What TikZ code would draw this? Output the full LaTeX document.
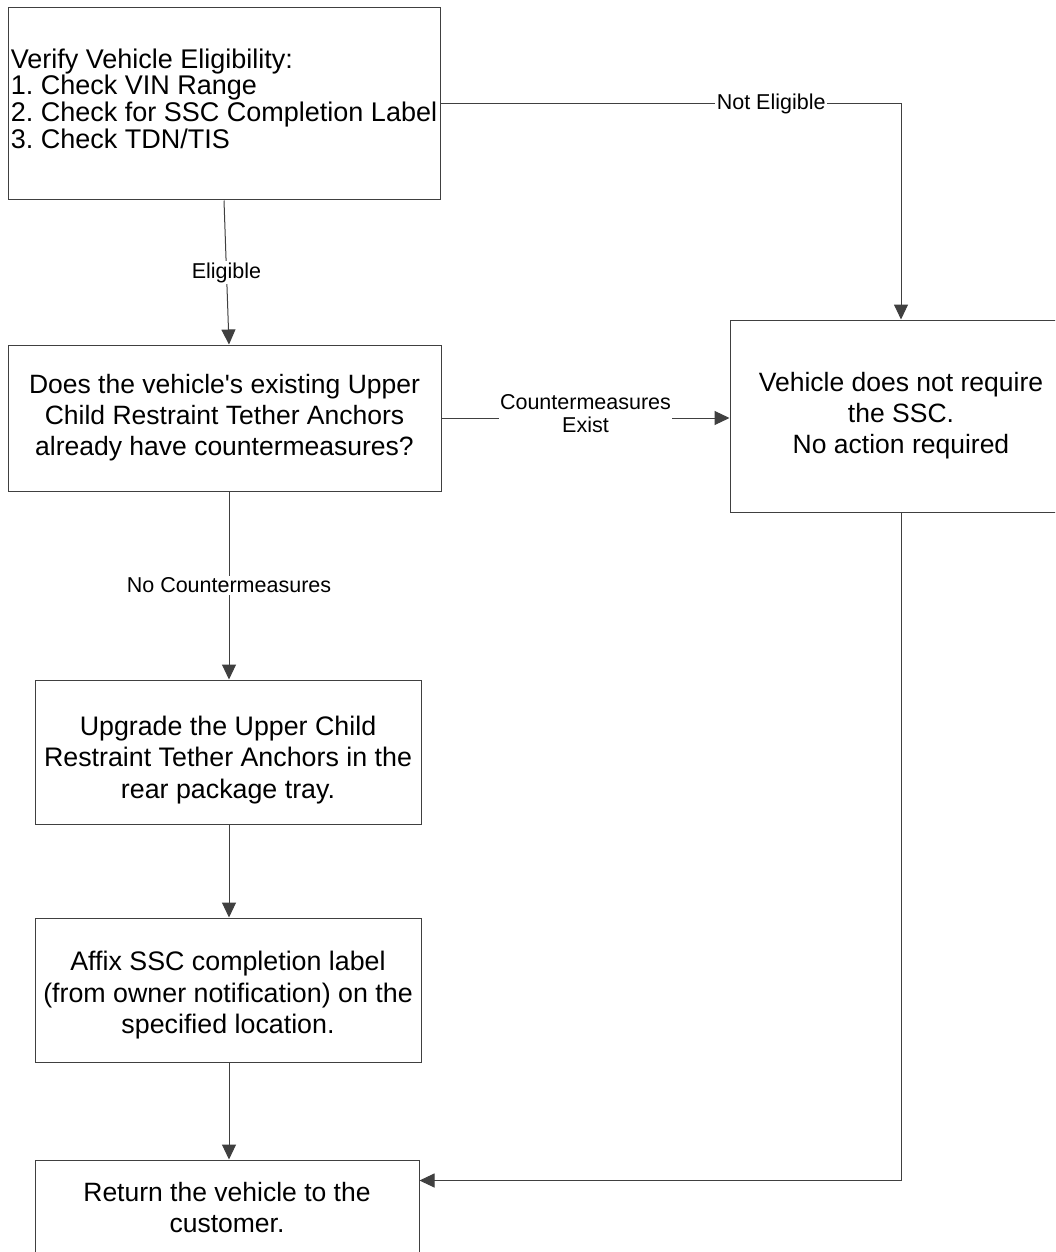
\documentclass[tikz,border=0pt]{standalone}
\usepackage{fontspec}
\setmainfont{Liberation Sans}
\usetikzlibrary{arrows.meta,calc}
\begin{document}
\frenchspacing
\begin{tikzpicture}[x=1pt,y=-1pt,
 box/.style={draw=black!75,line width=1pt,inner sep=0pt,align=center,font=\fontsize{26.5}{31}\selectfont},
 conn/.style={draw=black!75,line width=1pt},
 arr/.style={conn,-{Triangle[length=15pt,width=14pt]}},
 lbl/.style={fill=white,inner sep=1.5pt,font=\fontsize{21.5}{23}\selectfont,align=center}]
\clip (0,0) rectangle (1055,1252);
\useasboundingbox (0,0) rectangle (1055,1252);
\fill[white] (0,0) rectangle (1055,1252);
\node[box,minimum width=432pt,minimum height=192pt,align=left,font=\fontsize{27}{26.7}\selectfont] (b1) at (224,104)
 {Verify Vehicle Eligibility:\\1. Check VIN Range\\2. Check for SSC Completion Label\\3. Check TDN/TIS\rule[-11pt]{0pt}{0pt}};
\node[box,minimum width=433pt,minimum height=146pt] (b2) at (224.5,418)
 {Does the vehicle\textquotesingle s existing Upper\\Child Restraint Tether Anchors\\already have countermeasures?};
\node[box,minimum width=342pt,minimum height=192pt] (b3) at (901,416)
 {Vehicle does not require\\the SSC.\\No action required};
\node[box,minimum width=386pt,minimum height=144pt,font=\fontsize{26.8}{31.5}\selectfont] (b4) at (228,752)
 {\rule{0pt}{35pt}Upgrade the Upper Child\\Restraint Tether Anchors in the\\rear package tray.};
\node[box,minimum width=386pt,minimum height=144pt,font=\fontsize{26.8}{31.5}\selectfont] (b5) at (228,990)
 {\rule{0pt}{30pt}Affix SSC completion label\\(from owner notification) on the\\specified location.};
\node[box,minimum width=384pt,minimum height=96pt] (b6) at (227,1208)
 {Return the vehicle to the\\customer.};
\draw[arr] (b1.south) -- node[lbl]{Eligible} ($(b2.north)+(4.5,0)$);
\draw[arr] (b1.east) -- node[lbl,pos=0.718]{Not Eligible} (b3.north |- b1.east) -- (b3.north);
\draw[arr] (b2.east) -- node[lbl,yshift=4pt]{Countermeasures\\Exist} (b3.west |- b2.east);
\draw[arr] ($(b2.south)+(4.5,0)$) -- node[lbl]{No Countermeasures} ($(b4.north)+(1,0)$);
\draw[arr] ($(b4.south)+(1,0)$) -- ($(b5.north)+(1,0)$);
\draw[arr] ($(b5.south)+(1,0)$) -- ($(b6.north)+(2,0)$);
\draw[arr] (b3.south) |- ($(b6.north east)+(0,21)$);
\end{tikzpicture}
\end{document}
